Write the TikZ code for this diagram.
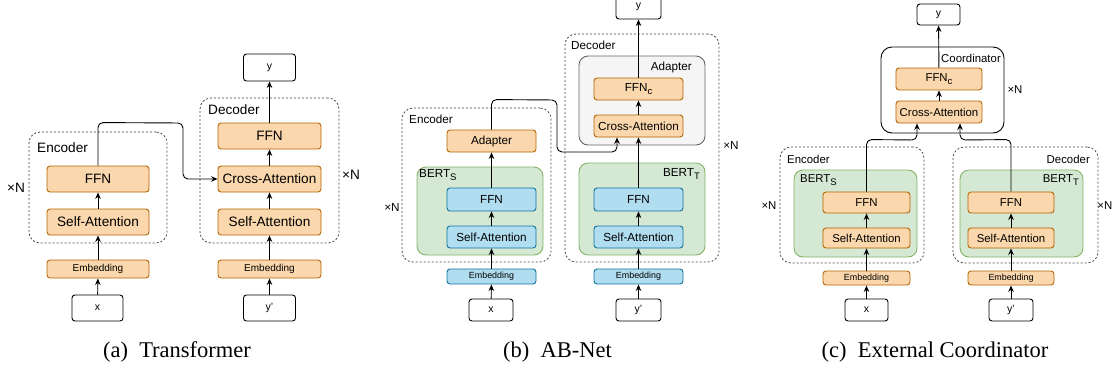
\documentclass[tikz,border=0pt]{standalone}
\usepackage{fontspec}
\setmainfont{Liberation Sans}
\newfontfamily\capfont{Liberation Serif}
\usetikzlibrary{arrows.meta,calc}
\definecolor{orF}{HTML}{FAD7AC}
\definecolor{orS}{HTML}{B46504}
\definecolor{blF}{HTML}{B1DDF0}
\definecolor{blS}{HTML}{10739E}
\definecolor{grF}{HTML}{D5E8D4}
\definecolor{grS}{HTML}{82B366}
\definecolor{gyF}{HTML}{F5F5F5}
\definecolor{gyS}{HTML}{666666}
\definecolor{dgray}{HTML}{444444}
\newcommand\lsub[1]{\raisebox{-0.45ex}{\fontsize{9.5pt}{10pt}\selectfont #1}}
\begin{document}
\begin{tikzpicture}[x=1pt,y=-1pt,
  box/.style={rounded corners=3pt, line width=0.9pt, inner sep=0pt, align=center},
  ob/.style={box, draw=orS, fill=orF},
  bb/.style={box, draw=blS, fill=blF},
  io/.style={box, draw=black, fill=white},
  wh/.style 2 args={minimum width=#1pt, minimum height=#2pt},
  db/.style={draw=dgray, dash pattern=on 2pt off 2pt, line width=0.8pt, rounded corners=11pt, inner sep=0pt},
  gb/.style={draw=grS, fill=grF, rounded corners=9pt, line width=0.9pt, inner sep=0pt},
  gyb/.style={draw=gyS, fill=gyF, rounded corners=9pt, line width=0.9pt, inner sep=0pt},
  cbx/.style={draw=black, rounded corners=11pt, line width=0.9pt, inner sep=0pt},
  arr/.style={-{Stealth[length=6.5pt,width=5.5pt]}, line width=0.9pt},
  lab/.style={inner sep=0pt},
  fa/.style={font=\fontsize{13.6pt}{16pt}\selectfont},
  fb/.style={font=\fontsize{11.7pt}{14pt}\selectfont},
  fc/.style={font=\fontsize{11.4pt}{14pt}\selectfont},
  fea/.style={font=\fontsize{10pt}{12pt}\selectfont},
  feb/.style={font=\fontsize{8.9pt}{11pt}\selectfont},
  fio/.style={font=\fontsize{10.5pt}{12pt}\selectfont},
  captxt/.style={font=\capfont\fontsize{22.5pt}{26pt}\selectfont, inner sep=0pt}
]
\useasboundingbox (0,0) rectangle (1113,373);

% ================= (a) Transformer =================
\node[db, wh={138}{111}] (aencbox) at (98,187.5) {};
\node[db, wh={139}{145}] (adecbox) at (269.5,170.5) {};
\node[lab, fa, anchor=west] (aenclab) at (37,148) {Encoder};
\node[lab, fa, anchor=west] (adeclab) at (208,110) {Decoder};
\node[ob, fa, wh={102}{26}] (aeffn) at (98,179) {FFN};
\node[ob, fa, wh={102}{26}] (aesa) at (98,222) {Self-Attention};
\node[ob, fea, wh={102}{18}] (aeemb) at (98,269) {Embedding};
\node[io, fio, wh={51}{26}] (ax) at (97.5,308) {x};
\node[ob, fa, wh={103}{26}] (adffn) at (269.5,136) {FFN};
\node[ob, fa, wh={103}{26}] (adca) at (269.5,179) {Cross-Attention};
\node[ob, fa, wh={103}{26}] (adsa) at (269.5,222) {Self-Attention};
\node[ob, fea, wh={103}{18}] (ademb) at (269.5,269) {Embedding};
\node[io, fio, wh={52}{26}] (ayp) at (269.5,308) {y'};
\node[io, fio, wh={52}{27}] (ay) at (269.5,67.5) {y};
\node[lab, fa] (aN1) at (16,188) {×N};
\node[lab, fa] (aN2) at (351,175) {×N};
\draw[arr] (ax) -- (aeemb);
\draw[arr] (aeemb) -- (aesa);
\draw[arr] (aesa) -- (aeffn);
\draw[arr, rounded corners=5pt] (aeffn.north) -- ++(0,-43) -- (183,123) -- (183,179) -- (adca.west);
\draw[arr] (ayp) -- (ademb);
\draw[arr] (ademb) -- (adsa);
\draw[arr] (adsa) -- (adca);
\draw[arr] (adca) -- (adffn);
\draw[arr] (adffn) -- (ay);
\node[captxt] (capa) at (177,352) {(a)\hspace{0.5em}Transformer};

% ================= (b) AB-Net =================
\node[db, wh={149}{154}] (bencbox) at (476.5,185) {};
\node[db, wh={154}{228}] (bdecbox) at (642,148) {};
\node[lab, fb, anchor=west] (benclab) at (409,119) {Encoder};
\node[lab, fb, anchor=west] (bdeclab) at (571,45) {Decoder};
\node[gb, wh={126}{88}] (bgrS) at (480,211) {};
\node[gb, wh={126}{92}] (bgrT) at (642,209) {};
\node[gyb, wh={126}{89}] (bgray) at (642,100.5) {};
\node[lab, fb, anchor=west] (bertSlab) at (419,175) {BERT\lsub{S}};
\node[lab, fb, anchor=east] (bertTlab) at (700,174) {BERT\lsub{T}};
\node[lab, fb, anchor=east] (badlab) at (692,67) {Adapter};
\node[ob, fb, wh={89}{22}] (bead) at (491.5,141) {Adapter};
\node[bb, fb, wh={89}{23}] (beffn) at (491.5,199.5) {FFN};
\node[bb, fb, wh={89}{22}] (besa) at (491.5,237) {Self-Attention};
\node[bb, feb, wh={89}{15}] (beemb) at (491.5,276.5) {Embedding};
\node[io, fio, wh={44}{22}] (bx) at (491,310) {x};
\node[ob, fb, wh={89}{22}] (bffnc) at (638.5,89) {FFN\lsub{c}};
\node[ob, fb, wh={89}{22}] (bca) at (638.5,126) {Cross-Attention};
\node[bb, fb, wh={89}{23}] (bdffn) at (638.5,199.5) {FFN};
\node[bb, fb, wh={89}{22}] (bdsa) at (638.5,237) {Self-Attention};
\node[bb, feb, wh={89}{15}] (bdemb) at (638.5,276.5) {Embedding};
\node[io, fio, wh={45}{22}] (byp) at (638.5,310) {y'};
\node[io, fio, wh={45}{24}] (by) at (638.5,7) {y};
\node[lab, fb] (bN1) at (392,207) {×N};
\node[lab, fb] (bN2) at (731,145) {×N};
\draw[arr] (bx) -- (beemb);
\draw[arr] (beemb) -- (besa);
\draw[arr] (besa) -- (beffn);
\draw[arr] (beffn) -- (bead);
\draw[arr, rounded corners=5pt] (bead.north) -- ++(0,-30) -- (557,100) -- (557,152) -- (617,152) -- ($(bca.south)+(-21.5,0)$);
\draw[arr] (byp) -- (bdemb);
\draw[arr] (bdemb) -- (bdsa);
\draw[arr] (bdsa) -- (bdffn);
\draw[arr] (bdffn) -- (bca);
\draw[arr] (bca) -- (bffnc);
\draw[arr] (bffnc) -- (by);
\node[captxt] (capb) at (557.5,352) {(b)\hspace{0.5em}AB-Net};

% ================= (c) External Coordinator =================
\node[db, wh={144}{116}] (cencbox) at (852,205) {};
\node[db, wh={145}{116}] (cdecbox) at (1025.5,205) {};
\node[lab, fc, anchor=west] (cenclab) at (787,159) {Encoder};
\node[lab, fc, anchor=east] (cdeclab) at (1090,159) {Decoder};
\node[gb, wh={123}{87}] (cgrS) at (855.5,213.5) {};
\node[gb, wh={123}{87}] (cgrT) at (1021.5,213.5) {};
\node[lab, fc, anchor=west] (cbertSlab) at (800,180) {BERT\lsub{S}};
\node[lab, fc, anchor=east] (cbertTlab) at (1079,180) {BERT\lsub{T}};
\node[cbx, wh={123}{86}] (ccoord) at (942.5,90) {};
\node[lab, fc, anchor=east] (ccoordlab) at (1001,58) {Coordinator};
\node[ob, fc, wh={87}{21}] (ceffn) at (866.5,202.5) {FFN};
\node[ob, fc, wh={87}{20}] (cesa) at (866.5,238) {Self-Attention};
\node[ob, feb, wh={87}{14}] (ceemb) at (866.5,278) {Embedding};
\node[io, fio, wh={43}{22}] (cx) at (866.5,310) {x};
\node[ob, fc, wh={86}{21}] (cdffn) at (1011,202.5) {FFN};
\node[ob, fc, wh={86}{20}] (cdsa) at (1011,238) {Self-Attention};
\node[ob, feb, wh={86}{14}] (cdemb) at (1011,278) {Embedding};
\node[io, fio, wh={44}{22}] (cyp) at (1011,310) {y'};
\node[ob, fc, wh={86}{22}] (cffnc) at (939,79) {FFN\lsub{c}};
\node[ob, fc, wh={86}{22}] (cca) at (939,112) {Cross-Attention};
\node[io, fio, wh={43}{21}] (cy) at (938.5,14.5) {y};
\node[lab, fc] (cN1) at (769,206) {×N};
\node[lab, fc] (cN2) at (1015,90) {×N};
\node[lab, fc, anchor=east] (cN3) at (1112.5,206) {×N};
\draw[arr] (cx) -- (ceemb);
\draw[arr] (ceemb) -- (cesa);
\draw[arr] (cesa) -- (ceffn);
\draw[arr, rounded corners=5pt] (ceffn.north) -- ++(0,-52) -- (917,140) -- ($(cca.south)+(-22,0)$);
\draw[arr] (cyp) -- (cdemb);
\draw[arr] (cdemb) -- (cdsa);
\draw[arr] (cdsa) -- (cdffn);
\draw[arr, rounded corners=5pt] (cdffn.north) -- ++(0,-52) -- (960,140) -- ($(cca.south)+(21,0)$);
\draw[arr] (cca) -- (cffnc);
\draw[arr] (cffnc) -- (cy);
\node[captxt] (capc) at (935,352) {(c)\hspace{0.5em}External Coordinator};
\end{tikzpicture}
\end{document}
